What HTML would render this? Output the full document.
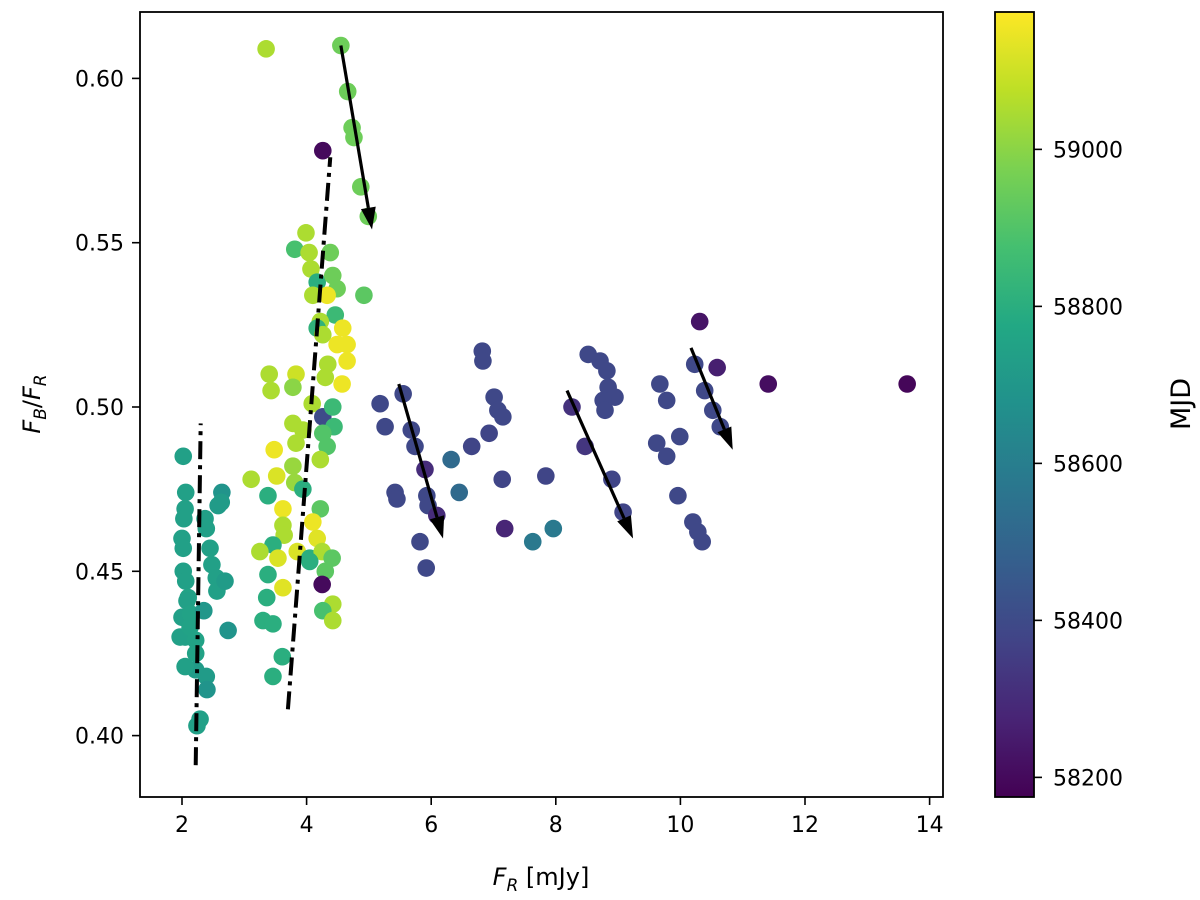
<!DOCTYPE html>
<html><head><meta charset="utf-8"><style>
body{margin:0;background:#fff;}
svg text{font-family:"DejaVu Sans","Liberation Sans",sans-serif;fill:#000;}
</style></head><body>
<svg id="chart" width="1200" height="895" viewBox="0 0 1200 895" xmlns="http://www.w3.org/2000/svg">
<defs>
<linearGradient id="vir" x1="0" y1="1" x2="0" y2="0">
<stop offset="0" stop-color="#440154"/><stop offset="0.1" stop-color="#482475"/><stop offset="0.2" stop-color="#414487"/><stop offset="0.3" stop-color="#355f8d"/><stop offset="0.4" stop-color="#2a788e"/><stop offset="0.5" stop-color="#21918c"/><stop offset="0.6" stop-color="#22a884"/><stop offset="0.7" stop-color="#44bf70"/><stop offset="0.8" stop-color="#7ad151"/><stop offset="0.9" stop-color="#bddf26"/><stop offset="1" stop-color="#fde725"/>
</linearGradient>
</defs>
<g id="points"></g>
<g id="guides"></g>
<rect x="140" y="12" width="803" height="785" fill="none" stroke="#000" stroke-width="1.8"/>
<g id="axes"></g>
<rect x="995" y="12" width="39" height="785" fill="url(#vir)" stroke="#000" stroke-width="1.8"/>
<text x="541" y="885" font-size="24" text-anchor="middle"><tspan font-style="italic">F</tspan><tspan font-style="italic" font-size="17" dy="6">R</tspan><tspan dy="-6"> [mJy]</tspan></text>
<text transform="translate(40,404) rotate(-90)" font-size="24" text-anchor="middle"><tspan font-style="italic">F</tspan><tspan font-style="italic" font-size="17" dy="6">B</tspan><tspan dy="-6">/</tspan><tspan font-style="italic">F</tspan><tspan font-style="italic" font-size="17" dy="6">R</tspan></text>
<text transform="translate(1190,404) rotate(-90)" font-size="27" text-anchor="middle">MJD</text>
</svg>
<script>
const fr = [2.02,2.06,2.05,2.03,2.00,2.02,2.02,2.06,2.10,2.08,2.00,1.97,2.05,2.14,2.13,2.22,2.22,2.37,2.39,2.45,2.48,2.55,2.56,2.58,2.64,2.63,2.69,2.74,2.22,2.39,2.40,2.24,2.29,2.05,2.35,
3.99,3.81,4.04,4.38,4.07,4.17,4.42,4.49,4.10,4.33,4.92,4.46,4.22,4.17,4.26,4.58,4.49,4.65,4.65,4.34,4.30,4.57,3.40,3.43,3.83,3.78,4.09,4.26,4.42,4.44,3.78,3.94,4.26,3.83,4.33,4.22,3.48,3.78,3.81,3.94,3.11,3.52,3.38,3.62,4.22,4.10,3.62,3.64,3.46,3.25,3.54,3.85,4.05,4.17,4.25,4.41,4.30,4.05,3.38,3.62,4.25,3.36,4.42,4.26,4.42,3.30,3.46,3.61,3.46,
3.35,4.55,4.66,4.73,4.76,4.87,4.99,4.26,
6.82,6.83,5.18,5.55,5.26,5.68,5.74,5.90,5.42,5.45,5.93,5.95,6.09,5.82,5.92,6.32,6.45,6.65,6.93,7.01,7.07,7.15,7.14,7.84,7.18,7.63,7.96,8.52,8.71,8.82,8.84,8.95,8.76,8.79,8.26,8.47,8.90,9.08,9.67,9.62,10.31,10.23,10.59,11.41,13.64,9.78,10.39,10.52,10.64,9.99,9.78,9.96,10.20,10.28,10.35];
const ratio = [0.485,0.474,0.469,0.466,0.460,0.457,0.450,0.447,0.442,0.441,0.436,0.430,0.430,0.437,0.433,0.429,0.425,0.466,0.463,0.457,0.452,0.448,0.444,0.470,0.474,0.471,0.447,0.432,0.420,0.418,0.414,0.403,0.405,0.421,0.438,
0.553,0.548,0.547,0.547,0.542,0.538,0.540,0.536,0.534,0.534,0.534,0.528,0.526,0.524,0.522,0.524,0.519,0.519,0.514,0.513,0.509,0.507,0.510,0.505,0.510,0.506,0.501,0.497,0.500,0.494,0.495,0.493,0.492,0.489,0.488,0.484,0.487,0.482,0.477,0.475,0.478,0.479,0.473,0.469,0.469,0.465,0.464,0.461,0.458,0.456,0.454,0.456,0.454,0.460,0.456,0.454,0.450,0.453,0.449,0.445,0.446,0.442,0.440,0.438,0.435,0.435,0.434,0.424,0.418,
0.609,0.610,0.596,0.585,0.582,0.567,0.558,0.578,
0.517,0.514,0.501,0.504,0.494,0.493,0.488,0.481,0.474,0.472,0.473,0.470,0.467,0.459,0.451,0.484,0.474,0.488,0.492,0.503,0.499,0.497,0.478,0.479,0.463,0.459,0.463,0.516,0.514,0.511,0.506,0.503,0.502,0.499,0.500,0.488,0.478,0.468,0.507,0.489,0.526,0.513,0.512,0.507,0.507,0.502,0.505,0.499,0.494,0.491,0.485,0.473,0.465,0.462,0.459];
const mjd = [58740,58740,58740,58740,58740,58740,58740,58740,58750,58740,58740,58740,58740,58750,58750,58750,58750,58740,58740,58740,58740,58740,58740,58720,58690,58720,58720,58690,58720,58720,58690,58740,58740,58740,58700,
59050,58880,59050,58950,59050,58800,58950,58950,59050,59150,58920,58850,59050,58820,59050,59150,59150,59150,59150,59050,59050,59150,59050,59050,59100,59000,59050,58400,58850,58850,59050,59050,58900,59050,58900,59050,59150,59020,59020,58800,59050,59120,58800,59150,58920,59150,59050,59050,58800,59050,59120,59120,58800,59130,59050,58920,58920,58800,58800,59130,58200,58800,59050,58880,59050,58800,58800,58800,58800,
59050,58950,58950,58950,58950,58950,58950,58200,
58390,58390,58390,58390,58390,58390,58390,58300,58390,58390,58390,58390,58300,58390,58390,58520,58520,58380,58380,58390,58390,58390,58380,58380,58280,58580,58580,58390,58390,58390,58390,58390,58390,58390,58320,58330,58380,58380,58390,58390,58230,58390,58260,58210,58190,58390,58390,58390,58390,58390,58390,58390,58390,58390,58390];
const xTicks = [2,4,6,8,10,12,14];
const yTicks = [0.40,0.45,0.50,0.55,0.60];
const cTicks = [58200,58400,58600,58800,59000];
const arrowStart = [[4.55,0.610],[5.48,0.507],[8.18,0.505],[10.17,0.518]];
const arrowEnd = [[5.05,0.554],[6.19,0.460],[9.24,0.460],[10.84,0.487]];
const dashStart = [[2.22,0.391],[3.70,0.408]];
const dashEnd = [[2.30,0.495],[4.38,0.576]];

const NS='http://www.w3.org/2000/svg';
const X = v => 182 + (v-2)*62.3;
const Y = v => 407 - (v-0.5)*3286;
const C = v => 797 - (v-58175)/1000*785;
const stops=[[68,1,84],[72,36,117],[65,68,135],[53,95,141],[42,120,142],[33,145,140],[34,168,132],[68,191,112],[122,209,81],[189,223,38],[253,231,37]];
function vir(v){let t=Math.max(0,Math.min(1,(v-58175)/1000))*10;const i=Math.min(9,Math.floor(t)),f=t-i;const a=stops[i],b=stops[i+1];return 'rgb('+a.map((c,k)=>Math.round(c+(b[k]-c)*f)).join(',')+')';}
function mk(tag,attrs,parent){const e=document.createElementNS(NS,tag);for(const k in attrs)e.setAttribute(k,attrs[k]);parent.appendChild(e);return e;}
const pts=document.getElementById('points');
fr.forEach((v,i)=>{const c=mk('circle',{cx:X(v),cy:Y(ratio[i]),r:8.8,fill:vir(mjd[i])},pts);

});
const g=document.getElementById('guides');
dashStart.forEach((s,i)=>{const l=mk('line',{x1:X(s[0]),y1:Y(s[1]),x2:X(dashEnd[i][0]),y2:Y(dashEnd[i][1]),stroke:'#000','stroke-width':4,'stroke-dasharray':'18 6 4 6'},g);

});
arrowStart.forEach((s,i)=>{const x1=X(s[0]),y1=Y(s[1]),x2=X(arrowEnd[i][0]),y2=Y(arrowEnd[i][1]);
const dx=x2-x1,dy=y2-y1,L=Math.hypot(dx,dy),ux=dx/L,uy=dy/L,hl=22,hw=7.5;
const bx=x2-ux*hl,by=y2-uy*hl;
const l=mk('line',{x1:x1,y1:y1,x2:bx,y2:by,stroke:'#000','stroke-width':3.2},g);


const p=mk('polygon',{points:`${x2},${y2} ${bx-uy*hw},${by+ux*hw} ${bx+uy*hw},${by-ux*hw}`,fill:'#000'},g);

});
const ax=document.getElementById('axes');
xTicks.forEach(t=>{const x=X(t);mk('line',{x1:x,y1:797,x2:x,y2:805,stroke:'#000','stroke-width':1.6},ax);
const tx=mk('text',{x:x,y:832,'font-size':22,'text-anchor':'middle'},ax);tx.textContent=t;

});
yTicks.forEach(t=>{const y=Y(t);mk('line',{x1:132,y1:y,x2:140,y2:y,stroke:'#000','stroke-width':1.6},ax);
const tx=mk('text',{x:124,y:y+8,'font-size':22,'text-anchor':'end'},ax);tx.textContent=t.toFixed(2);

});
cTicks.forEach(t=>{const y=C(t);mk('line',{x1:1034,y1:y,x2:1042,y2:y,stroke:'#000','stroke-width':1.6},ax);
const tx=mk('text',{x:1053,y:y+8,'font-size':22},ax);tx.textContent=t;

});
</script>
</body></html>
